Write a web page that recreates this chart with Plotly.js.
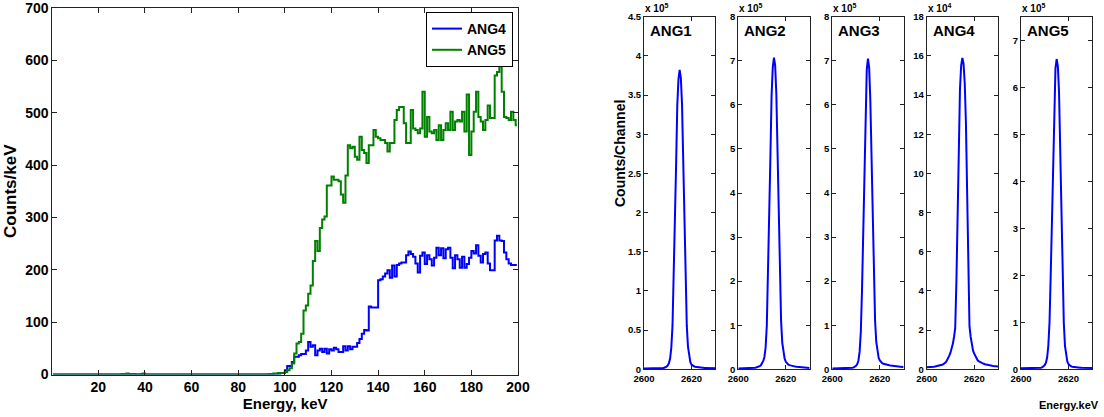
<!DOCTYPE html>
<html>
<head>
<meta charset="utf-8">
<script src="https://cdn.plot.ly/plotly-3.0.1.min.js"></script>
<style>html,body{margin:0;padding:0;background:#fff;}#chart{width:1104px;height:417px;}</style>
</head>
<body>
<div id="chart"></div>
<script>
// ---------- Left chart: counts per keV, 1 keV bins starting at 0 keV ----------
const binWidthKeV = 1;
const ang4Counts = [
 0,0,0,0,0,0,0,0,0,0, 0,0,0,0,0,0,0,0,0,0, 0,0,0,0,0,0,0,0,0,0,
 0,0,0,0,0,0,0,0,0,0, 0,0,0,0,0,0,0,0,0,0, 0,0,0,0,0,0,0,0,0,0,
 0,0,0,0,0,0,0,0,0,0, 0,0,0,0,0,0,0,0,0,0, 0,0,0,0,0,0,0,0,0,0,
 0,0,0,0,0,0,0,0,3,3,
 8,16,16,24,34,34,37,39,39,46,
 62,53,56,37,46,49,43,49,40,48,
 46,51,48,43,43,54,46,54,48,53,
 53,60,68,78,85,84,130,128,128,128,
 180,182,187,193,199,185,208,187,209,212,
 214,214,228,235,230,225,212,195,227,233,
 211,228,220,208,223,242,228,241,222,239,
 242,223,203,228,220,204,225,204,211,223,
 236,231,247,227,214,230,233,212,199,199,
 256,265,256,255,233,220,212,209,209,209
];
const ang5Counts = [
 0,0,0,0,0,0,0,0,0,0, 0,0,0,0,0,0,0,0,0,0, 0,0,0,0,0,0,0,0,0,0,
 1,0,2,1,0,1,0,0,1,2, 0,0,0,0,0,0,0,0,0,0, 0,0,0,0,0,0,0,0,0,0,
 0,0,0,0,0,0,0,0,0,0, 0,0,0,0,0,0,0,0,0,0, 0,0,0,0,0,0,0,0,0,0,
 0,0,0,1,1,2,2,3,3,3,
 5,8,12,21,40,59,62,78,122,132,
 154,170,217,255,236,280,296,302,361,361,
 378,372,372,369,344,328,380,438,432,435,
 416,410,454,429,423,404,438,438,467,454,
 451,448,448,442,426,442,442,486,505,511,
 511,480,442,442,505,470,467,461,470,540,
 454,492,464,461,467,448,476,448,467,480,
 467,502,467,483,486,483,502,464,535,419,
 464,502,540,492,483,467,486,514,490,490,
 571,578,590,540,492,490,486,502,486,476
];
const leftXTicks = [20,40,60,80,100,120,140,160,180,200];
const leftYTicks = [0,100,200,300,400,500,600,700];

// ---------- Right panels: counts per channel around the 2615 keV line ----------
const channelsKeV = [
 2600,2600.5,2601,2601.5,2602,2602.5,2603,2603.5,2604,2604.5,
 2605,2605.5,2606,2606.5,2607,2607.5,2608,2608.5,2609,2609.5,
 2610,2610.5,2611,2611.5,2612,2612.5,2613,2613.5,2614,2614.5,
 2615,2615.5,2616,2616.5,2617,2617.5,2618,2618.5,2619,2619.5,
 2620,2620.5,2621,2621.5,2622,2622.5,2623,2623.5,2624,2624.5,
 2625,2625.5,2626,2626.5,2627,2627.5,2628,2628.5,2629,2629.5,2630
];
const peakNames = ["ANG1","ANG2","ANG3","ANG4","ANG5"];
const peakExponents = [5,5,5,4,5];
const ang1Peak = [ // x 10^5
 0.01,0.01,0.01,0.01,0.01,0.01,0.01,0.01,0.01,0.01,
 0.01,0.01,0.01,0.01,0.012,0.014,0.016,0.02,0.025,0.035,
 0.05,0.08,0.14,0.28,0.56,1.15,1.8,2.6,3.36,3.7,
 3.82,3.72,3.38,2.62,1.82,1.17,0.56,0.29,0.15,0.09,
 0.06,0.045,0.038,0.033,0.03,0.028,0.026,0.024,0.022,0.021,
 0.02,0.018,0.018,0.017,0.017,0.016,0.016,0.015,0.015,0.015,0.014
];
const ang2Peak = [ // x 10^5
 0.02,0.02,0.02,0.02,0.02,0.02,0.02,0.022,0.022,0.024,
 0.025,0.027,0.028,0.03,0.035,0.04,0.045,0.055,0.07,0.09,
 0.13,0.19,0.28,0.5,1.0,2.1,3.35,4.8,6.2,6.85,
 7.07,6.9,6.25,4.85,3.4,2.2,1.1,0.6,0.36,0.24,
 0.17,0.13,0.11,0.095,0.085,0.078,0.072,0.066,0.061,0.057,
 0.053,0.05,0.047,0.044,0.042,0.04,0.038,0.036,0.034,0.032,0.03
];
const ang3Peak = [ // x 10^5
 0.02,0.02,0.02,0.02,0.02,0.02,0.02,0.02,0.02,0.02,
 0.02,0.02,0.02,0.02,0.022,0.025,0.03,0.035,0.045,0.06,
 0.08,0.12,0.2,0.4,0.85,1.8,3.1,4.6,6.0,6.8,
 7.05,6.85,6.1,4.8,3.3,2.0,1.1,0.62,0.38,0.26,
 0.2,0.16,0.14,0.125,0.115,0.105,0.1,0.095,0.09,0.085,
 0.08,0.075,0.07,0.067,0.064,0.061,0.058,0.056,0.054,0.052,0.05
];
const ang4Peak = [ // x 10^4
 0.1,0.1,0.11,0.11,0.12,0.12,0.13,0.14,0.15,0.16,
 0.17,0.19,0.21,0.23,0.26,0.3,0.36,0.45,0.55,0.7,
 0.85,1.05,1.3,1.65,2.1,4.5,7.5,11.5,14.3,15.5,
 15.9,15.6,14.6,12.6,9.0,5.5,2.2,1.65,1.15,0.95,
 0.8,0.65,0.52,0.45,0.4,0.36,0.33,0.3,0.28,0.26,
 0.24,0.22,0.21,0.2,0.19,0.18,0.17,0.16,0.15,0.15,0.14
];
const ang5Peak = [ // x 10^5
 0.02,0.02,0.02,0.02,0.02,0.02,0.02,0.02,0.02,0.02,
 0.02,0.02,0.02,0.02,0.022,0.025,0.03,0.035,0.045,0.06,
 0.09,0.14,0.25,0.5,1.0,2.0,3.2,4.6,5.8,6.4,
 6.6,6.45,5.9,4.7,3.3,2.0,1.0,0.5,0.27,0.16,
 0.11,0.08,0.065,0.055,0.05,0.045,0.04,0.038,0.036,0.034,
 0.033,0.032,0.031,0.03,0.03,0.03,0.03,0.03,0.03,0.03,0.03
];
const peakSeries = [ang1Peak, ang2Peak, ang3Peak, ang4Peak, ang5Peak];
const peakYTicks = [
 [0,0.5,1,1.5,2,2.5,3,3.5,4,4.5],
 [0,1,2,3,4,5,6,7,8],
 [0,1,2,3,4,5,6,7,8],
 [0,2,4,6,8,10,12,14,16,18],
 [0,1,2,3,4,5,6,7]
];
const peakYMax = [4.5, 8, 8, 18, 7.5];
const peakXTicks = [2600, 2620];

// ---------- Build ----------
const FONT = "Liberation Sans, Arial, Helvetica, sans-serif";
const W = 1104, H = 417;
const px = v => v / W;
const py = v => 1 - v / H;

const binCenters = ang4Counts.map((_, i) => (i + 0.5) * binWidthKeV);

const traces = [
  {x: binCenters, y: ang4Counts, name: "ANG4", type: "scatter", mode: "lines",
   line: {color: "#0000ff", width: 2, shape: "hvh"}, xaxis: "x", yaxis: "y"},
  {x: binCenters, y: ang5Counts, name: "ANG5", type: "scatter", mode: "lines",
   line: {color: "#008000", width: 2, shape: "hvh"}, xaxis: "x", yaxis: "y"}
];

const axisBase = {
  showgrid: false, zeroline: false, showline: true, linecolor: "#222", linewidth: 1,
  ticks: "inside", mirror: "ticks", tickcolor: "#222", tickwidth: 1,
  ticklabeloverflow: "allow"
};

const layout = {
  width: W, height: H,
  margin: {l: 0, r: 0, t: 0, b: 0},
  paper_bgcolor: "#fff", plot_bgcolor: "#fff",
  font: {family: FONT, color: "#000", weight: "bold"},
  showlegend: true,
  legend: {x: px(513), xanchor: "right", y: py(12), yanchor: "top",
           bordercolor: "#000", borderwidth: 1, bgcolor: "#fff",
           font: {family: FONT, size: 14, weight: "bold", color: "#000"},
           tracegroupgap: 0, itemwidth: 30},
  xaxis: Object.assign({}, axisBase, {
    domain: [px(52.3), px(518)], range: [0.25, 200],
    tickmode: "array", tickvals: leftXTicks, ticklen: 5,
    tickfont: {family: FONT, size: 14, weight: "bold"},
    title: {text: "Energy, keV", font: {family: FONT, size: 15, weight: "bold"}, standoff: 4},
    anchor: "y"
  }),
  yaxis: Object.assign({}, axisBase, {
    domain: [py(374.5), py(8)], range: [0, 700],
    tickmode: "array", tickvals: leftYTicks, ticklen: 5,
    tickfont: {family: FONT, size: 14, weight: "bold"},
    title: {text: "Counts/keV", font: {family: FONT, size: 17, weight: "bold"}, standoff: 4},
    anchor: "x"
  }),
  annotations: []
};

const panelLeft = [644, 738.3, 832.3, 926.7, 1021];
const panelWidth = 71.3;
peakSeries.forEach((vals, k) => {
  const n = k + 2;
  const xa = "x" + n, ya = "y" + n;
  traces.push({x: channelsKeV, y: vals, name: peakNames[k], type: "scatter", mode: "lines",
    line: {color: "#0000ff", width: 2, shape: "linear"}, xaxis: xa, yaxis: ya, showlegend: false});
  layout["xaxis" + n] = Object.assign({}, axisBase, {
    domain: [px(panelLeft[k]), px(panelLeft[k] + panelWidth)], range: [2600, 2630],
    tickmode: "array", tickvals: peakXTicks, ticklen: 4,
    tickfont: {family: FONT, size: 9.5, weight: "bold"}, anchor: ya
  });
  layout["yaxis" + n] = Object.assign({}, axisBase, {
    domain: [py(369.3), py(16.7)], range: [0, peakYMax[k]],
    tickmode: "array", tickvals: peakYTicks[k], ticklen: 4,
    tickfont: {family: FONT, size: 9.5, weight: "bold"}, anchor: xa
  });
  layout.annotations.push({
    xref: "paper", yref: "paper", x: px(panelLeft[k] + 4), y: py(31),
    xanchor: "left", yanchor: "middle", showarrow: false, text: peakNames[k],
    font: {family: FONT, size: 15, weight: "bold", color: "#000"}
  });
  layout.annotations.push({
    xref: "paper", yref: "paper", x: px(panelLeft[k] - 1), y: py(8),
    xanchor: "left", yanchor: "middle", showarrow: false,
    text: "x 10<sup>" + peakExponents[k] + "</sup>",
    font: {family: FONT, size: 10, weight: "bold", color: "#000"}
  });
});
layout.annotations.push({
  xref: "paper", yref: "paper", x: px(620), y: py(154), textangle: -90,
  xanchor: "center", yanchor: "middle", showarrow: false, text: "Counts/Channel",
  font: {family: FONT, size: 14, weight: "bold", color: "#000"}
});
layout.annotations.push({
  xref: "paper", yref: "paper", x: px(1101), y: py(405),
  xanchor: "right", yanchor: "middle", showarrow: false, text: "Energy.keV",
  font: {family: FONT, size: 11, weight: "bold", color: "#000"}
});

Plotly.newPlot("chart", traces, layout, {staticPlot: true, displayModeBar: false});
</script>
</body>
</html>
